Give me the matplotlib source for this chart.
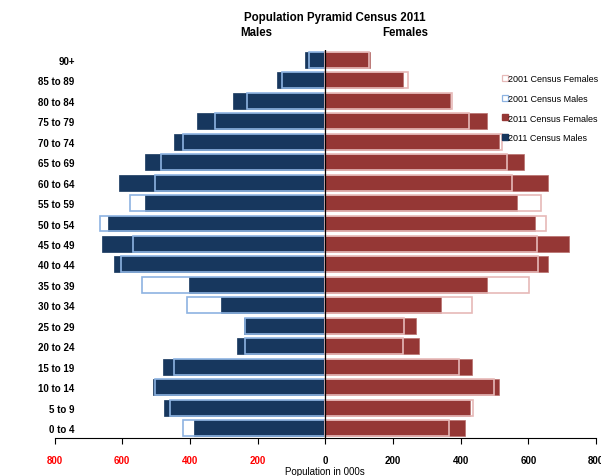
import matplotlib
matplotlib.use("Agg")
import matplotlib.pyplot as plt
from matplotlib.lines import Line2D
import numpy as np

plt.rcParams['font.family'] = ['Liberation Sans', 'DejaVu Sans']

age_groups = ["0 to 4", "5 to 9", "10 to 14", "15 to 19", "20 to 24", "25 to 29",
              "30 to 34", "35 to 39", "40 to 44", "45 to 49", "50 to 54", "55 to 59",
              "60 to 64", "65 to 69", "70 to 74", "75 to 79", "80 to 84", "85 to 89", "90+"]

# Population in thousands, youngest group first
males_2011 = [388, 477, 510, 479, 260, 241, 308, 403, 623, 659, 641, 534,
              610, 533, 448, 378, 272, 144, 61]
males_2001 = [420, 459, 502, 446, 238, 236, 408, 542, 603, 569, 666, 577,
              503, 486, 420, 326, 230, 128, 49]
females_2011 = [413, 427, 512, 433, 277, 267, 343, 478, 657, 719, 620, 568,
                657, 587, 512, 477, 370, 230, 131]
females_2001 = [367, 436, 500, 396, 230, 233, 434, 602, 628, 626, 653, 638,
                553, 538, 521, 424, 374, 244, 130]

x_ticks = [-800, -600, -400, -200, 0, 200, 400, 600, 800]
x_tick_labels = ["800", "600", "400", "200", "0", "200", "400", "600", "800"]

navy = "#17375E"
light_blue = "#8DB3E2"
dark_red = "#953735"
pink = "#E6B9B8"

fig = plt.figure(figsize=(6.01, 4.77), dpi=100)
ax = fig.add_axes([0.0908, 0.0792, 0.9008, 0.8145])

y = np.arange(len(age_groups))
h = 0.78

ax.barh(y, -np.array(males_2011), height=h, color=navy, edgecolor=navy, linewidth=0.5, zorder=2)
ax.barh(y, np.array(females_2011), height=h, color=dark_red, edgecolor="#B86F6D", linewidth=0.5, zorder=2)
ax.barh(y, -np.array(males_2001), height=h, facecolor="none", edgecolor=light_blue, linewidth=1.2, zorder=3)
ax.barh(y, np.array(females_2001), height=h, facecolor="none", edgecolor=pink, linewidth=1.2, zorder=3)

ax.axvline(0, color="black", linewidth=0.9, zorder=4)

ax.set_xlim(-800, 800)
ax.set_ylim(-0.5, len(age_groups) - 0.5)
ax.set_xticks(x_ticks)
ax.set_xticklabels(x_tick_labels, fontsize=7, fontweight="bold")
for lbl, v in zip(ax.get_xticklabels(), x_ticks):
    lbl.set_color("red" if v < 0 else "black")

ax.set_yticks(y)
ax.set_yticklabels(age_groups, fontsize=7, fontweight="bold")
ax.tick_params(axis="y", length=0, pad=-14.5)
ax.tick_params(axis="x", direction="out", length=4, width=0.8, pad=8)

for s in ["top", "right", "left"]:
    ax.spines[s].set_visible(False)
ax.spines["bottom"].set_linewidth(0.8)

ax.set_xlabel("Population in 000s", fontsize=7, labelpad=0.5)

fig.text(0.557, 0.962, "Population Pyramid Census 2011", ha="center", va="center",
         fontsize=8.3, fontweight="bold")
fig.text(0.426, 0.930, "Males", ha="center", va="center", fontsize=8.3, fontweight="bold")
fig.text(0.675, 0.930, "Females", ha="center", va="center", fontsize=8.3, fontweight="bold")

handles = [
    Line2D([], [], marker="s", linestyle="none", markersize=4.5, markerfacecolor="white",
           markeredgecolor=pink, markeredgewidth=0.9),
    Line2D([], [], marker="s", linestyle="none", markersize=4.5, markerfacecolor="white",
           markeredgecolor=light_blue, markeredgewidth=0.9),
    Line2D([], [], marker="s", linestyle="none", markersize=4.5, markerfacecolor=dark_red,
           markeredgecolor=dark_red),
    Line2D([], [], marker="s", linestyle="none", markersize=4.5, markerfacecolor=navy,
           markeredgecolor=navy),
]
labels = ["2001 Census Females", "2001 Census Males", "2011 Census Females", "2011 Census Males"]
fig.legend(handles, labels, loc="upper left", bbox_to_anchor=(0.836, 0.843), frameon=False,
           fontsize=6.5, handlelength=0.5, handletextpad=0.15, labelspacing=1.2,
           borderpad=0, borderaxespad=0)

fig.savefig("out.png", dpi=100)
